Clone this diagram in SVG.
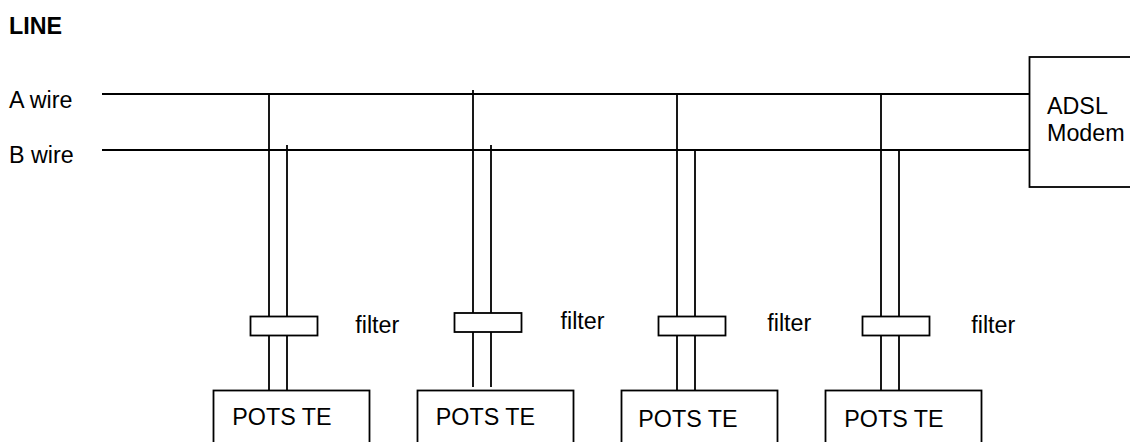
<svg xmlns="http://www.w3.org/2000/svg" width="1130" height="442" viewBox="0 0 1130 442">
<style>
text{font-family:"Liberation Sans",Arial,sans-serif;font-size:23.3px;fill:#000}
.b{fill:#fff;stroke:#000;stroke-width:1.8}
#connectors path{fill:none;stroke:#000;stroke-width:1.8}
</style>
<rect width="1130" height="442" fill="#fff"/>
<g id="connectors">
<path d="M102 94H1030M102 150H1030"/>
<path d="M269 94V391M287 145V391"/>
<path d="M473 90V387M491 145V387"/>
<path d="M677 94V391M695 150V391"/>
<path d="M881 94V391M899 150V391"/>
</g>
<text id="title" x="9" y="33.5" style="font-weight:bold">LINE</text>
<g id="label-a"><text x="9" y="108">A wire</text></g>
<g id="label-b"><text x="9" y="163">B wire</text></g>
<g id="modem"><rect class="b" x="1029.5" y="57" width="110" height="130"/><text x="1047" y="114">ADSL</text><text x="1047" y="141">Modem</text></g>
<g id="filter1"><rect class="b" x="250.5" y="316.5" width="67" height="19"/><text x="355.3" y="333">filter</text></g>
<g id="filter2"><rect class="b" x="454.5" y="313" width="67" height="19"/><text x="560.5" y="329">filter</text></g>
<g id="filter3"><rect class="b" x="658.5" y="316.5" width="67" height="19"/><text x="767.3" y="331">filter</text></g>
<g id="filter4"><rect class="b" x="862.5" y="316.5" width="67" height="19"/><text x="971.3" y="333">filter</text></g>
<g id="te1"><rect class="b" x="213.5" y="390.5" width="156" height="70"/><text x="232.3" y="425">POTS TE</text></g>
<g id="te2"><rect class="b" x="417.5" y="390.5" width="156" height="70"/><text x="435.8" y="425">POTS TE</text></g>
<g id="te3"><rect class="b" x="621.5" y="390.5" width="156" height="70"/><text x="638.3" y="427">POTS TE</text></g>
<g id="te4"><rect class="b" x="825.5" y="390.5" width="156" height="70"/><text x="844.3" y="427">POTS TE</text></g>
</svg>
